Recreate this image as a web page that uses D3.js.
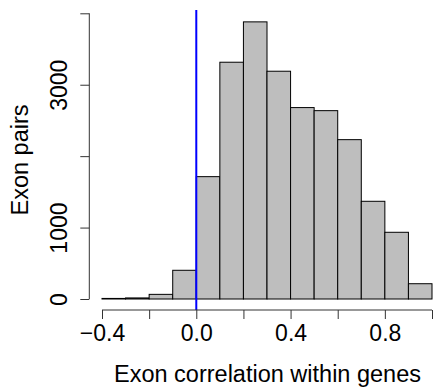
<!DOCTYPE html>
<html>
<head>
<meta charset="utf-8">
<script src="https://cdn.jsdelivr.net/npm/d3@7"></script>
<style>
  body { margin: 0; background: #fff; }
  svg text { font-family: "Liberation Sans", Arial, sans-serif; }
</style>
</head>
<body>
<div class="content"></div>
<script>
// histogram bins (correlation) and counts
const binStarts = [-0.4, -0.3, -0.2, -0.1, 0.0, 0.1, 0.2, 0.3, 0.4, 0.5, 0.6, 0.7, 0.8, 0.9];
const binWidth = 0.1;
const counts = [8, 15, 65, 402, 1713, 3315, 3880, 3189, 2680, 2637, 2231, 1368, 934, 214];
const xTicks = [-0.4, -0.2, 0.0, 0.2, 0.4, 0.6, 0.8, 1.0];
const xLabelled = [-0.4, 0.0, 0.4, 0.8];
const yTicks = [0, 1000, 2000, 3000, 4000];
const yLabelled = [0, 1000, 3000];
const refLine = 0;

drawHistogram();

function drawHistogram() {
    const content = document.querySelector(".content");
    content.innerHTML = '<svg width="433" height="388"></svg>';
    const svg = d3.select("svg");

    const x = d3.scaleLinear().domain([-0.4, 1.0]).range([102, 432]);
    const y = d3.scaleLinear().domain([0, 4000]).range([299, 13.3]);
    const plotTop = 10;
    const plotBottom = 310;

    svg.selectAll("rect.bar")
        .data(counts)
        .enter()
        .append("rect")
        .attr("class", "bar")
        .attr("x", (d, i) => x(binStarts[i]))
        .attr("y", d => y(d))
        .attr("width", (d, i) => x(binStarts[i] + binWidth) - x(binStarts[i]))
        .attr("height", d => y(0) - y(d))
        .attr("fill", "#bebebe")
        .attr("stroke", "#000")
        .attr("stroke-width", 1);

    // vertical reference line at 0
    svg.append("line")
        .attr("x1", x(refLine))
        .attr("x2", x(refLine))
        .attr("y1", plotTop)
        .attr("y2", plotBottom)
        .attr("stroke", "#0000ff")
        .attr("stroke-width", 2);

    // x axis
    const xAxis = svg.append("g")
        .attr("transform", "translate(0,310)")
        .call(d3.axisBottom(x)
            .tickValues(xTicks)
            .tickSize(9)
            .tickPadding(6)
            .tickFormat(d => xLabelled.some(v => Math.abs(v - d) < 1e-9) ? d3.format(".1f")(d) : ""));
    xAxis.select(".domain").attr("d", `M${x(-0.4)},0H${x(1.0)}`).attr("stroke", "#333");
    xAxis.selectAll(".tick line").attr("stroke", "#333");
    xAxis.selectAll("text").attr("font-size", 23).attr("fill", "#000");

    // y axis
    const yAxis = svg.append("g")
        .attr("transform", "translate(89.3,0)")
        .call(d3.axisLeft(y)
            .tickValues(yTicks)
            .tickSize(9)
            .tickFormat(d => yLabelled.includes(d) ? String(d) : ""));
    yAxis.select(".domain").attr("d", `M0,${y(0)}V${y(4000)}`).attr("stroke", "#333");
    yAxis.selectAll(".tick line").attr("stroke", "#333");
    yAxis.selectAll("text")
        .attr("font-size", 23)
        .attr("fill", "#000")
        .attr("x", null)
        .attr("dy", null)
        .attr("text-anchor", "middle")
        .attr("transform", "translate(-22.5,0) rotate(-90)");

    // axis titles
    svg.append("text")
        .attr("x", (x(-0.4) + x(1.0)) / 2 + 0.5)
        .attr("y", 382)
        .attr("text-anchor", "middle")
        .attr("font-size", 23.5)
        .attr("fill", "#000")
        .text("Exon correlation within genes");

    svg.append("text")
        .attr("transform", `translate(28.3,${(plotTop + plotBottom) / 2}) rotate(-90)`)
        .attr("text-anchor", "middle")
        .attr("font-size", 23.5)
        .attr("fill", "#000")
        .text("Exon pairs");
}
</script>
</body>
</html>
